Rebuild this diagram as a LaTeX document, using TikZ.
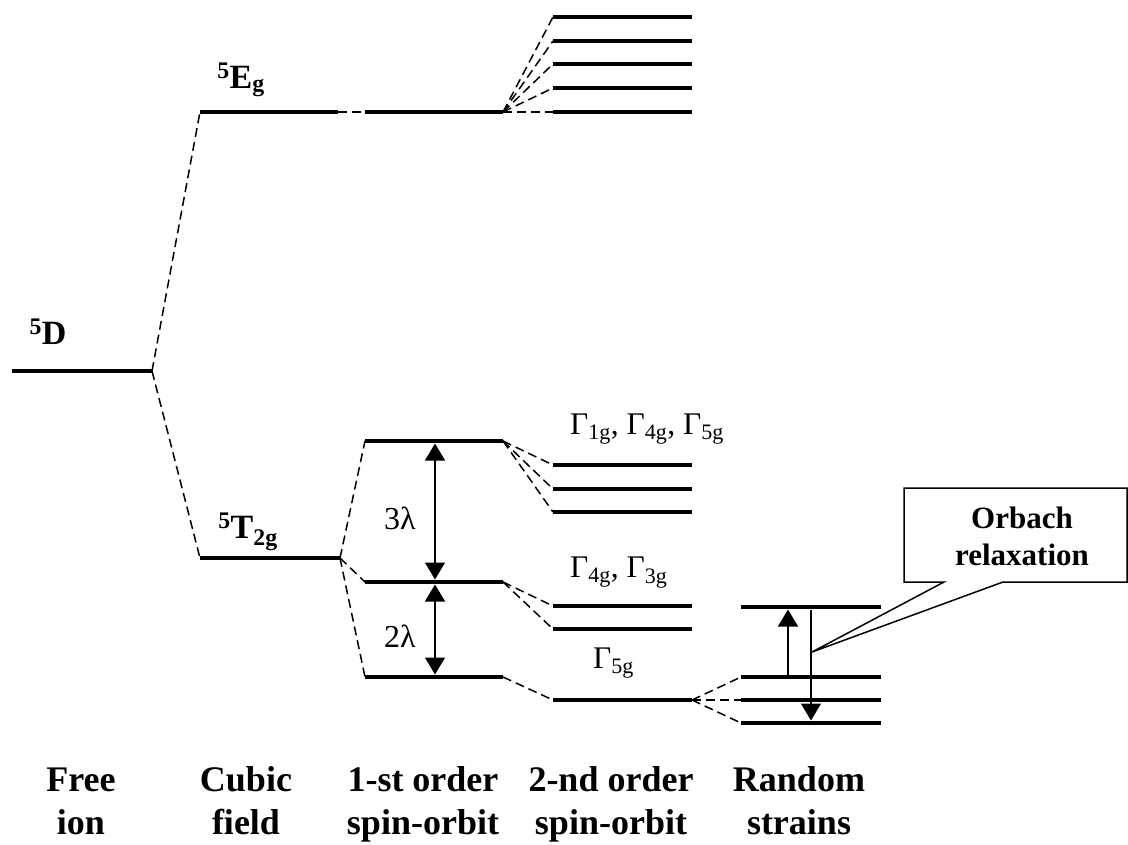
\documentclass[tikz,border=0pt]{standalone}
\usepackage{fontspec}
\setmainfont{Liberation Serif}
\usetikzlibrary{arrows.meta,calc}

% one energy level: coordinates (name-l), (name-r) and the thick bar
\newcommand{\enlevel}[4]{%
  \coordinate (#1-l) at (#2,#4);
  \coordinate (#1-r) at (#3,#4);
  \draw[level] (#1-l) -- (#1-r);}

\begin{document}
\begin{tikzpicture}[
  x=1pt, y=-1pt,
  level/.style={line width=4.6pt},
  link/.style={dash pattern=on 9pt off 5pt, line width=1.5pt},
  gaparr/.style={{Triangle[length=17pt,width=20pt]}-{Triangle[length=17pt,width=20pt]},
    line width=1.5pt, shorten <=2.5pt, shorten >=2.5pt},
  strainarr/.style={-{Triangle[length=17pt,width=20pt]}, line width=1.5pt,
    shorten <=2.5pt, shorten >=2.5pt},
  statelbl/.style={font=\fontsize{34}{40}\selectfont\bfseries, inner sep=0pt, anchor=base},
  irreplbl/.style={font=\fontsize{31.5}{36}\selectfont, inner sep=0pt, anchor=base west},
  gaplbl/.style={font=\fontsize{32}{36}\selectfont, inner sep=0pt, anchor=base},
  steplbl/.style={font=\fontsize{36}{43}\selectfont\bfseries, align=center, inner sep=0pt, anchor=base},
  calloutlbl/.style={font=\fontsize{31}{37}\selectfont\bfseries, align=center, inner sep=0pt, anchor=base}
]
\useasboundingbox (0,0) rectangle (1128,844);

% free ion and cubic field
\enlevel{D}{12}{152}{371}
\enlevel{Eg}{200}{338}{112}
\enlevel{Tg}{200}{340}{558}
\draw[link] (D-r) -- (Eg-l);
\draw[link] (D-r) -- (Tg-l);

% first order spin-orbit
\enlevel{EgA}{365}{503}{112}
\enlevel{TgA}{365}{503}{441}
\enlevel{TgB}{365}{503}{582}
\enlevel{TgC}{365}{503}{677}
\draw[link] (Eg-r) -- (EgA-l);
\foreach \t in {TgA,TgB,TgC}
  \draw[link] (Tg-r) -- (\t-l);

% second order spin-orbit
\foreach \n/\y in {1/112,2/88,3/64,4/41,5/17} {
  \enlevel{EgS\n}{553}{692}{\y}
  \draw[link] (EgA-r) -- (EgS\n-l);
}
\foreach \n/\y in {1/465,2/489,3/512} {
  \enlevel{TA\n}{553}{692}{\y}
  \draw[link] (TgA-r) -- (TA\n-l);
}
\foreach \n/\y in {1/606,2/629} {
  \enlevel{TB\n}{553}{692}{\y}
  \draw[link] (TgB-r) -- (TB\n-l);
}
\enlevel{TC}{553}{692}{700}
\draw[link] (TgC-r) -- (TC-l);

% random strains
\enlevel{R0}{741}{881}{607}
\foreach \n/\y in {1/677,2/700,3/723} {
  \enlevel{R\n}{741}{881}{\y}
  \draw[link] (TC-r) -- (R\n-l);
}

% splittings
\coordinate (gapx) at (435,0);
\draw[gaparr] (TgA-l -| gapx) -- (TgB-l -| gapx);
\draw[gaparr] (TgB-l -| gapx) -- (TgC-l -| gapx);
\node[gaplbl] (lam3) at (400,529) {3λ};
\node[gaplbl] (lam2) at (400,647) {2λ};

\coordinate (upx) at (788,0);
\coordinate (dnx) at (811,0);
\draw[strainarr] (R1-l -| upx) -- (R0-l -| upx);
\draw[strainarr] (R0-l -| dnx) -- (R3-l -| dnx);

% labels of the terms
\node[statelbl] (lblD) at (48,344) {\textsuperscript{5}D};
\node[statelbl] (lblEg) at (241,88) {\textsuperscript{5}E\textsubscript{g}};
\node[statelbl] (lblTg) at (248,538) {\textsuperscript{5}T\textsubscript{2g}};
\node[irreplbl] (irrA) at (570,434) {Γ\textsubscript{1g}, Γ\textsubscript{4g}, Γ\textsubscript{5g}};
\node[irreplbl] (irrB) at (570,577) {Γ\textsubscript{4g}, Γ\textsubscript{3g}};
\node[irreplbl] (irrC) at (593,668) {Γ\textsubscript{5g}};

% callout
\coordinate (tip) at (812,652);
\draw[line width=1.5pt, line join=miter]
  (904,488) -- (1127,488) -- (1127,582) -- (1003,582) -- (tip)
  -- (944,582) -- (904,582) -- cycle;
\node[calloutlbl] (orbach) at (1022,565) {Orbach\\relaxation};

% stages
\node[steplbl] (free) at (81,834) {Free\\ion};
\node[steplbl] (cubic) at (246,834) {Cubic\\field};
\node[steplbl] (sofirst) at (423,834) {1-st order\\spin-orbit};
\node[steplbl] (sosecond) at (611,834) {2-nd order\\spin-orbit};
\node[steplbl] (strain) at (799,834) {Random\\strains};

\end{tikzpicture}
\end{document}
